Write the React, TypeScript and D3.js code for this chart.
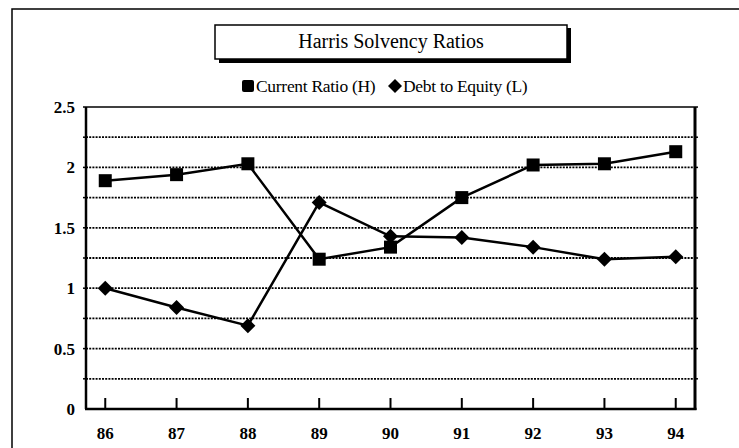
import React from "react";
import * as d3 from "d3";

const years = ["86", "87", "88", "89", "90", "91", "92", "93", "94"];
const currentRatio = [1.89, 1.94, 2.03, 1.24, 1.34, 1.75, 2.02, 2.03, 2.13];
const debtToEquity = [1.0, 0.84, 0.69, 1.71, 1.43, 1.42, 1.34, 1.24, 1.26];
const yTickLabels = [0, 0.5, 1, 1.5, 2, 2.5];
const gridValues = [0.25, 0.5, 0.75, 1, 1.25, 1.5, 1.75, 2, 2.25];
const title = "Harris Solvency Ratios";
const legendLabels = ["Current Ratio (H)", "Debt to Equity (L)"];

const W = 739;
const H = 448;
const plot = { left: 86, right: 695, top: 107, bottom: 409 };

export default function App() {
  const x = d3
    .scalePoint<string>()
    .domain(years)
    .range([plot.left, plot.right])
    .padding(0.27);
  const y = d3.scaleLinear().domain([0, 2.5]).range([plot.bottom, plot.top]);

  const line = d3
    .line<number>()
    .x((_, i) => x(years[i]) as number)
    .y((d) => y(d));

  const serif = "'Liberation Serif', 'Times New Roman', serif";
  const sq = 13;
  const diamond = (cx: number, cy: number, r: number) =>
    `M${cx},${cy - r}L${cx + r},${cy}L${cx},${cy + r}L${cx - r},${cy}Z`;

  return (
    <svg
      width={W}
      height={H}
      style={{ position: "absolute", left: 0, top: 0, background: "#fff" }}
      fontFamily={serif}
    >
      {/* outer frame */}
      <rect x={12} y={9} width={740} height={460} fill="none" stroke="#000" strokeWidth={1.5} />

      {/* title box with shadow */}
      <rect x={219} y={28} width={352} height={35} fill="#000" />
      <rect x={215} y={25} width={352} height={34} fill="#fff" stroke="#000" strokeWidth={1.5} />
      <text x={391} y={48} textAnchor="middle" fontSize={20} fill="#000">
        {title}
      </text>

      {/* legend */}
      <rect x={242} y={80} width={12} height={12} fill="#000" rx={2} />
      <text x={256} y={92} fontSize={17.5} fill="#000" letterSpacing={-0.3}>
        {legendLabels[0]}
      </text>
      <path d={diamond(395, 86, 7)} fill="#000" />
      <text x={403} y={92} fontSize={17.5} fill="#000" letterSpacing={-0.3}>
        {legendLabels[1]}
      </text>

      {/* gridlines */}
      {gridValues.map((v) => (
        <line
          key={"g" + v}
          x1={plot.left}
          x2={plot.right}
          y1={y(v)}
          y2={y(v)}
          stroke="#000"
          strokeWidth={1.8}
          strokeDasharray="2,1.2"
        />
      ))}
      {/* left/right small ticks */}
      {gridValues.concat([2.5]).map((v) => (
        <g key={"t" + v}>
          <line x1={plot.left - 3} x2={plot.left} y1={y(v)} y2={y(v)} stroke="#000" strokeWidth={1.5} />
          <line x1={plot.right} x2={plot.right + 3} y1={y(v)} y2={y(v)} stroke="#000" strokeWidth={1.5} />
        </g>
      ))}

      {/* plot frame */}
      <line x1={plot.left} x2={plot.right} y1={plot.top} y2={plot.top} stroke="#000" strokeWidth={1.5} />
      <line x1={plot.left} x2={plot.left} y1={plot.top} y2={plot.bottom} stroke="#000" strokeWidth={2.5} />
      <line x1={plot.right} x2={plot.right} y1={plot.top} y2={plot.bottom + 1} stroke="#000" strokeWidth={3} />
      <line x1={plot.left - 1} x2={plot.right + 1.5} y1={plot.bottom} y2={plot.bottom} stroke="#000" strokeWidth={2.5} />

      {/* x ticks */}
      {years.map((yr) => (
        <line
          key={"xt" + yr}
          x1={x(yr)}
          x2={x(yr)}
          y1={plot.bottom}
          y2={plot.bottom - 11}
          stroke="#000"
          strokeWidth={2}
        />
      ))}

      {/* y labels */}
      {yTickLabels.map((v) => (
        <text
          key={"yl" + v}
          x={75}
          y={y(v) + 6}
          textAnchor="end"
          fontSize={17}
          fontWeight="bold"
          fill="#000"
        >
          {String(v)}
        </text>
      ))}

      {/* x labels */}
      {years.map((yr) => (
        <text
          key={"xl" + yr}
          x={x(yr)}
          y={439}
          textAnchor="middle"
          fontSize={17}
          fontWeight="bold"
          fill="#000"
        >
          {yr}
        </text>
      ))}

      {/* series lines */}
      <path d={line(currentRatio) || ""} fill="none" stroke="#000" strokeWidth={2.5} />
      <path d={line(debtToEquity) || ""} fill="none" stroke="#000" strokeWidth={2.5} />

      {/* markers */}
      {currentRatio.map((v, i) => (
        <rect
          key={"cr" + i}
          x={(x(years[i]) as number) - sq / 2}
          y={y(v) - sq / 2}
          width={sq}
          height={sq}
          fill="#000"
        />
      ))}
      {debtToEquity.map((v, i) => (
        <path key={"de" + i} d={diamond(x(years[i]) as number, y(v), 7.5)} fill="#000" />
      ))}
    </svg>
  );
}
